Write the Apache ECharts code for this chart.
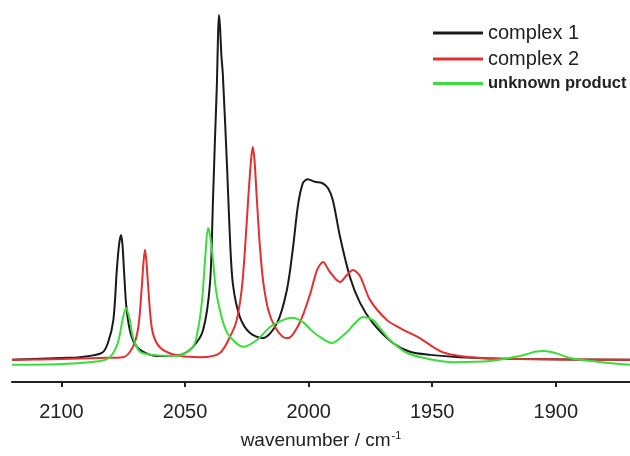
<!DOCTYPE html>
<html>
<head>
<meta charset="utf-8">
<script src="https://cdn.jsdelivr.net/npm/echarts@6/dist/echarts.min.js"></script>
<style>
  html, body { margin: 0; padding: 0; background: #fff; }
</style>
</head>
<body>
<div id="chart" style="width: 630px; height: 456px"></div>
<script>
// wavenumber (cm-1) / absorbance
var c1Wave = [2120, 2099.8, 2092.5, 2083.6, 2081.2, 2079, 2077.6, 2076.7, 2075.9, 2075.3, 2074.7, 2073.6, 2071.6,
  2068.2, 2061.3, 2052, 2046.8, 2042.7, 2039.9, 2038.7, 2037.9, 2037.1, 2036.7, 2036.3, 2035.9, 2035.3, 2034.7,
  2033, 2031.8, 2030.6, 2027.8, 2023.7, 2018.5, 2012.8, 2008.8, 2006.3, 2004.3, 2002.3, 2000.3, 1997.5, 1994.6,
  1992.2, 1990.2, 1987.3, 1983.3, 1979.2, 1974, 1965.9, 1959, 1950.9, 1938.8, 1914.5, 1870]
var c1Abs = [0.058, 0.063, 0.065, 0.076, 0.102, 0.162, 0.293, 0.359, 0.385, 0.359, 0.293, 0.188, 0.118,
  0.084, 0.068, 0.071, 0.092, 0.136, 0.259, 0.476, 0.634, 0.783, 0.895, 0.961, 0.935, 0.856, 0.804,
  0.563, 0.372, 0.254, 0.17, 0.128, 0.115, 0.154, 0.241, 0.353, 0.463, 0.521, 0.531, 0.524, 0.521,
  0.508, 0.476, 0.38, 0.275, 0.207, 0.154, 0.102, 0.079, 0.071, 0.065, 0.06, 0.058]

var c2Wave = [2120, 2099.8, 2084.4, 2075.1, 2071.1, 2068.9, 2067.5, 2066.8, 2066.2, 2065.6, 2064.9, 2063.5, 2061.5,
  2058.1, 2052, 2043.9, 2035.9, 2031.1, 2029.1, 2027.1, 2025.7, 2024.4, 2023.3, 2022.6, 2021.9, 2021, 2019.7,
  2018.3, 2016.3, 2013.6, 2010.4, 2008.3, 2003.5, 1999.5, 1996.6, 1994.2, 1991.4, 1987.3, 1984.5, 1982.1,
  1979.2, 1975.2, 1968.3, 1963, 1959, 1955, 1949.7, 1944.8, 1934.7, 1914.5, 1870]
var c2Abs = [0.058, 0.06, 0.063, 0.065, 0.092, 0.144, 0.249, 0.314, 0.346, 0.314, 0.249, 0.144, 0.102,
  0.081, 0.068, 0.065, 0.076, 0.128, 0.162, 0.241, 0.353, 0.484, 0.581, 0.615, 0.581, 0.484, 0.353,
  0.259, 0.188, 0.144, 0.118, 0.115, 0.157, 0.228, 0.293, 0.314, 0.288, 0.262, 0.28, 0.293,
  0.277, 0.215, 0.162, 0.141, 0.128, 0.115, 0.092, 0.076, 0.065, 0.06, 0.058]

var c3Wave = [2120, 2099.8, 2084.4, 2080.4, 2077.2, 2075.3, 2073.9, 2072.3, 2071.1, 2068.2, 2063, 2053.3, 2046.8,
  2044.8, 2043.1, 2041.9, 2040.7, 2039.9, 2038.7, 2037.5, 2035.9, 2033.8, 2031.8, 2026.6, 2020.9, 2015.6,
  2010.4, 2006.7, 2002.3, 1999.5, 1996.6, 1990.6, 1984.5, 1980.8, 1978, 1974, 1971.1, 1967.1, 1960.2,
  1949.7, 1941.6, 1926.6, 1914.5, 1908.4, 1905.2, 1900.3, 1894.2, 1886.1, 1870]
var c3Abs = [0.045, 0.047, 0.055, 0.065, 0.102, 0.162, 0.194, 0.162, 0.118, 0.079, 0.071, 0.068, 0.092,
  0.136, 0.215, 0.319, 0.403, 0.385, 0.319, 0.241, 0.188, 0.141, 0.118, 0.092, 0.11, 0.144,
  0.162, 0.168, 0.157, 0.139, 0.123, 0.102, 0.131, 0.157, 0.17, 0.162, 0.141, 0.11, 0.076,
  0.058, 0.052, 0.055, 0.068, 0.079, 0.081, 0.076, 0.063, 0.055, 0.045]

var names = ['complex 1', 'complex 2', 'unknown product']
var colors = ['#1a1a1a', '#e3302f', '#3ade3a']
var tickValues = [2100, 2050, 2000, 1950, 1900]

function pairs(xs, ys) {
  return xs.map(function (x, i) { return [x, ys[i]] })
}

var chart = echarts.init(document.getElementById('chart'))

var option = {
  animation: false,
  color: colors,
  grid: { left: 12, right: 0, top: 0, bottom: 74 },
  legend: {
    orient: 'vertical',
    left: 428,
    top: 18,
    icon: 'rect',
    itemWidth: 50,
    itemHeight: 3,
    itemGap: 6,
    textStyle: { fontSize: 20, color: '#222', fontFamily: 'Liberation Sans, Arial' },
    data: [
      { name: names[0] },
      { name: names[1] },
      { name: names[2], textStyle: { fontSize: 16.5, fontWeight: 'bold' } }
    ]
  },
  xAxis: {
    type: 'value',
    inverse: true,
    min: 1870,
    max: 2120,
    name: 'wavenumber / cm{sup|-1}',
    nameLocation: 'middle',
    nameGap: 48,
    nameTextStyle: {
      fontSize: 19,
      color: '#222',
      fontFamily: 'Liberation Sans, Arial',
      rich: { sup: { fontSize: 11, color: '#222', verticalAlign: 'top', padding: [0, 0, 10, 1] } }
    },
    axisLine: { lineStyle: { color: '#222', width: 2 } },
    axisTick: { customValues: tickValues, length: 5, lineStyle: { color: '#222', width: 2 } },
    axisLabel: {
      customValues: tickValues,
      formatter: function (v) { return String(v) },
      margin: 20,
      fontSize: 20,
      color: '#222',
      fontFamily: 'Liberation Sans, Arial'
    },
    splitLine: { show: false }
  },
  yAxis: {
    type: 'value',
    min: 0,
    max: 1,
    show: false
  },
  series: [
    { name: names[0], type: 'line', data: pairs(c1Wave, c1Abs), showSymbol: false, smooth: 0.3, lineStyle: { width: 2 } },
    { name: names[1], type: 'line', data: pairs(c2Wave, c2Abs), showSymbol: false, smooth: 0.3, lineStyle: { width: 2 } },
    { name: names[2], type: 'line', data: pairs(c3Wave, c3Abs), showSymbol: false, smooth: 0.3, lineStyle: { width: 2 } }
  ]
}

chart.setOption(option)
</script>
</body>
</html>
